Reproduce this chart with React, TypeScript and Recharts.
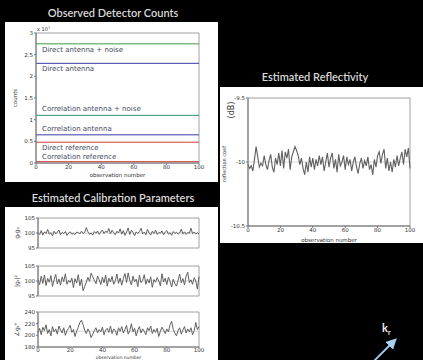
import React from 'react';
import { LineChart, Line, XAxis, YAxis, ReferenceArea, ReferenceLine, LabelList } from 'recharts';

// ---------- data ----------
const observationTicks = [0, 20, 40, 60, 80, 100];

const countSeriesNames = [
  'Direct antenna + noise',
  'Direct antenna',
  'Correlation antenna + noise',
  'Correlation antenna',
  'Direct reference',
  'Correlation reference',
];
const countLevels = [2.75e7, 2.3e7, 1.1e7, 0.65e7, 0.48e7, 0.03e7];
const countObservations = [0, 100];
const countTicks = [0, 0.5e7, 1e7, 1.5e7, 2e7, 2.5e7, 3e7];

const reflectivity = [
  -10.02, -10.05, -10.03, -10.07, -9.98, -9.88, -9.96, -10.04, -10.01, -10.03,
  -9.95, -10.02, -10.06, -9.99, -9.94, -10.04, -10.08, -9.97, -10.02, -9.93,
  -10.03, -9.91, -10.05, -9.92, -9.97, -9.9, -10.06, -9.96, -9.92, -9.88,
  -9.91, -9.95, -10.02, -9.97, -10.05, -10.1, -10.0, -10.08, -9.96, -10.04,
  -9.97, -10.06, -9.98, -10.03, -9.95, -10.02, -9.96, -10.07, -10.0, -9.93,
  -10.04, -9.97, -9.93, -10.05, -9.98, -10.08, -9.94, -10.03, -10.0, -9.95,
  -10.06, -9.96, -10.02, -9.98, -10.07, -10.0, -9.96, -10.04, -10.09, -10.01,
  -9.97, -10.05, -9.99, -10.03, -9.96, -10.06, -10.02, -10.1, -9.98, -10.04,
  -9.95, -9.92, -10.01, -9.94, -9.9, -10.05, -9.97, -10.07, -10.0, -10.08,
  -9.98, -10.04, -9.95, -10.03, -9.97, -9.92, -10.02, -9.9, -9.96, -9.89,
  -10.05,
];
const reflectivityTrue = -10;
const reflectivityTicks = [-10.5, -10, -9.5];

const gainProduct = [
  100.2, 99.5, 100.8, 99.3, 100.4, 99.8, 101.2, 99.6, 100.1, 99.0,
  100.6, 99.7, 100.3, 101.0, 99.4, 100.2, 99.8, 100.5, 99.2, 100.0,
  100.4, 99.6, 99.9, 99.5, 100.3, 100.1, 99.7, 100.6, 99.8, 100.2,
  101.8, 100.4, 99.6, 100.0, 99.3, 100.5, 99.9, 100.7, 99.5, 100.3,
  101.0, 99.8, 100.6, 100.2, 101.5, 99.7, 100.9, 100.1, 99.4, 100.6,
  100.0, 101.4, 99.6, 100.8, 99.2, 100.3, 101.7, 99.5, 100.9, 100.2,
  99.1, 100.4, 99.8, 100.5, 101.6, 99.7, 100.3, 99.4, 101.2, 100.0,
  99.3, 100.6, 99.8, 101.0, 99.5, 100.2, 99.9, 100.7, 99.4, 100.3,
  100.8, 99.6, 100.1, 99.2, 100.5, 99.8, 100.3, 99.6, 100.0, 101.3,
  99.7, 100.4, 99.5, 100.2, 99.9, 101.6, 99.8, 100.3, 99.6, 100.1,
  99.7,
];
const gainSquared = [
  100.5, 98.8, 101.6, 99.2, 102.0, 98.5, 100.9, 99.6, 101.8, 98.2,
  100.4, 102.2, 99.0, 100.7, 98.6, 101.4, 99.8, 102.4, 98.9, 100.2,
  99.5, 101.0, 97.8, 100.8, 99.3, 102.1, 98.4, 100.6, 96.8, 98.2,
  99.6, 101.2, 99.9, 102.6, 101.4, 100.2, 99.1, 101.7, 100.4, 98.8,
  101.3, 99.4, 102.0, 98.3, 100.9, 99.7, 101.5, 98.9, 100.1, 102.3,
  99.2, 101.0, 98.6, 100.8, 102.5, 99.5, 102.7, 100.3, 98.7, 101.6,
  99.8, 100.6, 98.1, 101.9, 99.4, 100.2, 102.1, 98.9, 100.7, 99.3,
  101.4, 97.9, 100.5, 99.6, 101.1, 100.0, 98.4, 102.4, 99.7, 100.9,
  98.8, 101.3, 99.9, 98.0, 100.6, 99.1, 98.3, 100.2, 102.3, 99.4,
  100.8, 98.7, 101.6, 102.9, 99.5, 100.4, 98.9, 101.1, 100.0, 97.3,
  101.5,
];
const gainPhase = [
  205, 212, 201, 214, 208, 218, 203, 210, 199, 215,
  206, 211, 202, 216, 209, 204, 213, 200, 208, 212,
  217, 205, 210, 198, 207, 214, 222, 226, 218, 209,
  203, 211, 206, 196, 202, 208, 213, 204, 210, 206,
  214, 201, 209, 212, 205, 216, 203, 211, 208, 200,
  213, 207, 215, 204, 210, 217, 202, 208, 220, 206,
  212, 199, 209, 215, 204, 211, 207, 201, 213, 208,
  216, 203, 210, 205, 212, 198, 207, 214, 209, 203,
  211, 206, 218, 224, 210, 204, 199, 208, 213, 202,
  209, 215, 204, 211, 206, 213, 201, 208, 222, 210,
  215,
];
const calibTrue = [100, 100, 207];
const calibLabels = ['g\u1D63g\u2090', '|g\u1D63|\u00B2', '\u2220g\u1D63\u00B0'];
const calibDomains: [number, number][] = [[95, 105], [95, 105], [180, 240]];
const calibTicks = [[95, 100, 105], [95, 100, 105], [180, 200, 220, 240]];

// ---------- styles ----------
const countColors = ['#3f9a3f', '#3a3aa8', '#2f9470', '#3a3aa8', '#d23a3a', '#d23a3a'];
const countLabelDy = [8, 8, -4, -4, 8, -3];
const tickFont = { fontSize: 5.5, fill: '#333', fontFamily: 'DejaVu Sans' };
const titleStyle: React.CSSProperties = {
  position: 'absolute',
  color: '#d8d8d8',
  fontFamily: 'Lato',
  fontWeight: 600,
  fontSize: 11,
  whiteSpace: 'nowrap',
  transform: 'translateX(-50%)',
  lineHeight: '12px',
};

const countData = countObservations.map((obs) => {
  const row: Record<string, number> = { obs };
  countLevels.forEach((v, i) => (row['s' + i] = v));
  return row;
});
const reflData = reflectivity.map((v, i) => ({ obs: i, v }));
const calibSeries = [gainProduct, gainSquared, gainPhase];
const calibData = calibSeries.map((s) => s.map((v, i) => ({ obs: i, v })));

function CountsChart() {
  return (
    <LineChart width={213} height={160} data={countData} margin={{ top: 11, right: 19, bottom: 0, left: 0 }}>
      <XAxis
        dataKey="obs"
        type="number"
        domain={[0, 100]}
        ticks={observationTicks}
        tick={tickFont}
        tickSize={2}
        tickMargin={0}
        height={19}
        stroke="#777"
        label={{ value: 'observation number', position: 'insideBottom', offset: 5, style: { fontSize: 5.5, fill: '#333', fontFamily: 'DejaVu Sans' } }}
      />
      <YAxis
        type="number"
        domain={[0, 3e7]}
        ticks={countTicks}
        tickFormatter={(v: number) => String(v / 1e7)}
        tick={tickFont}
        tickSize={2}
        tickMargin={1}
        width={31}
        stroke="#777"
        label={{
          content: (p: any) => {
            const vb = p.viewBox || {};
            const cx = vb.x + 10;
            const cy = vb.y + vb.height / 2;
            return (
              <g>
                <text x={cx} y={cy} transform={`rotate(-90 ${cx} ${cy})`} textAnchor="middle" fontSize={5.5} fill="#333" fontFamily="DejaVu Sans" dominantBaseline="middle">counts</text>
                <text x={vb.x + vb.width + 1} y={vb.y - 2} fontSize={5} fill="#333" fontFamily="DejaVu Sans">x 10<tspan dy={-2} fontSize={3.5}>7</tspan></text>
              </g>
            );
          },
        }}
      />
      <ReferenceArea x1={0} x2={100} y1={0} y2={3e7} fill="none" stroke="#888" strokeWidth={0.8} ifOverflow="extendDomain" />
      {countSeriesNames.map((name, i) => (
        <Line key={name} dataKey={'s' + i} stroke={countColors[i]} strokeWidth={1} dot={false} isAnimationActive={false}>
          <LabelList
            dataKey={'s' + i}
            content={(p: any) => {
              if (p.index !== 0) return null;
              const x = p.x ?? p.viewBox?.x;
              const y = p.y ?? p.viewBox?.y;
              return (
                <text x={x + 6} y={y + countLabelDy[i]} fontSize={7} fill="#454a60" fontFamily="DejaVu Sans">
                  {name}
                </text>
              );
            }}
          />
        </Line>
      ))}
    </LineChart>
  );
}

function ReflectivityChart() {
  return (
    <LineChart width={203} height={156} data={reflData} margin={{ top: 11, right: 13, bottom: 0, left: 0 }}>
      <XAxis
        dataKey="obs"
        type="number"
        domain={[0, 100]}
        ticks={observationTicks}
        tick={tickFont}
        tickSize={2}
        tickMargin={0}
        height={17}
        stroke="#777"
        label={{ value: 'observation number', position: 'insideBottom', offset: 1, style: { fontSize: 5.5, fill: '#333', fontFamily: 'DejaVu Sans' } }}
      />
      <YAxis
        type="number"
        domain={[-10.5, -9.5]}
        ticks={reflectivityTicks}
        tick={tickFont}
        tickSize={2}
        tickMargin={1}
        width={28}
        stroke="#777"
        label={{
          content: (p: any) => {
            const vb = p.viewBox || {};
            const cx = vb.x + 5;
            const cy = vb.y + vb.height / 2 + 2;
            const dx = vb.x + 11;
            const dy = vb.y + 12;
            return (
              <g>
                <text x={cx} y={cy} transform={`rotate(-90 ${cx} ${cy})`} textAnchor="middle" fontSize={5} fill="#333" fontFamily="DejaVu Sans" dominantBaseline="middle">reflection coef</text>
                <text x={dx} y={dy} transform={`rotate(-90 ${dx} ${dy})`} textAnchor="middle" fontSize={8} fill="#333" fontFamily="DejaVu Sans" dominantBaseline="middle">(dB)</text>
              </g>
            );
          },
        }}
      />
      <ReferenceArea x1={0} x2={100} y1={-10.5} y2={-9.5} fill="none" stroke="#888" strokeWidth={0.8} />
      <ReferenceLine y={reflectivityTrue} stroke="#ccc" strokeWidth={0.8} />
      <Line dataKey="v" stroke="#606060" strokeWidth={1.1} dot={false} isAnimationActive={false} />
    </LineChart>
  );
}

function CalibChart({ idx, height, showX }: { idx: number; height: number; showX: boolean }) {
  const [lo, hi] = calibDomains[idx];
  return (
    <LineChart width={213} height={height} data={calibData[idx]} margin={{ top: 5, right: 19, bottom: showX ? 0 : 5, left: 0 }}>
      <XAxis
        dataKey="obs"
        type="number"
        domain={[0, 100]}
        ticks={observationTicks}
        tick={showX ? tickFont : false}
        tickSize={showX ? 1 : 0}
        tickMargin={0}
        height={showX ? 13 : 0}
        hide={!showX}
        stroke="#777"
        label={showX ? { value: 'observation number', position: 'insideBottom', offset: 1, style: { fontSize: 4.5, fill: '#333', fontFamily: 'DejaVu Sans' } } : undefined}
      />
      <YAxis
        type="number"
        domain={[lo, hi]}
        ticks={calibTicks[idx]}
        tick={tickFont}
        tickSize={2}
        tickMargin={1}
        width={33}
        stroke="#777"
        label={{
          content: (p: any) => {
            const vb = p.viewBox || {};
            const cx = vb.x + 12;
            const cy = vb.y + vb.height / 2;
            return (
              <text x={cx} y={cy} transform={`rotate(-90 ${cx} ${cy})`} textAnchor="middle" fontSize={6} fill="#333" fontFamily="DejaVu Sans" dominantBaseline="middle">
                {calibLabels[idx]}
              </text>
            );
          },
        }}
      />
      <ReferenceArea x1={0} x2={100} y1={lo} y2={hi} fill="none" stroke="#888" strokeWidth={0.8} />
      <ReferenceLine y={calibTrue[idx]} stroke="#ccc" strokeWidth={0.8} />
      <Line dataKey="v" stroke="#606060" strokeWidth={1} dot={false} isAnimationActive={false} />
    </LineChart>
  );
}

export default function App() {
  return (
    <div style={{ position: 'absolute', left: 0, top: 0, width: 423, height: 360, background: '#000', overflow: 'hidden' }}>
      <div style={{ ...titleStyle, left: 113, top: 7 }}>Observed Detector Counts</div>
      <div style={{ position: 'absolute', left: 5, top: 22, width: 213, height: 160, background: '#fff' }}>
        <CountsChart />
      </div>

      <div style={{ ...titleStyle, left: 315, top: 71 }}>Estimated Reflectivity</div>
      <div style={{ position: 'absolute', left: 220, top: 87, width: 203, height: 156, background: '#fff' }}>
        <ReflectivityChart />
      </div>

      <div style={{ ...titleStyle, left: 113, top: 192 }}>Estimated Calibration Parameters</div>
      <div style={{ position: 'absolute', left: 5, top: 207, width: 213, height: 153, background: '#fff', overflow: 'hidden' }}>
        <div style={{ position: 'absolute', left: 0, top: 6 }}>
          <CalibChart idx={0} height={40} showX={false} />
        </div>
        <div style={{ position: 'absolute', left: 0, top: 54 }}>
          <CalibChart idx={1} height={40} showX={false} />
        </div>
        <div style={{ position: 'absolute', left: 0, top: 100 }}>
          <CalibChart idx={2} height={53} showX={true} />
        </div>
      </div>

      <svg style={{ position: 'absolute', left: 0, top: 0 }} width={423} height={360}>
        <defs>
          <marker id="ah" markerWidth="6" markerHeight="6" refX="3" refY="3" orient="auto">
            <path d="M0,0 L6,3 L0,6 z" fill="#a8d0f0" />
          </marker>
        </defs>
        <text x={382} y={332} fill="#eee" fontSize={11} fontWeight="bold" fontFamily="Lato">
          k<tspan dy={3} fontSize={7}>r</tspan>
        </text>
        <line x1={373} y1={362} x2={393} y2={342} stroke="#a8d0f0" strokeWidth={1.8} markerEnd="url(#ah)" />
      </svg>
    </div>
  );
}
